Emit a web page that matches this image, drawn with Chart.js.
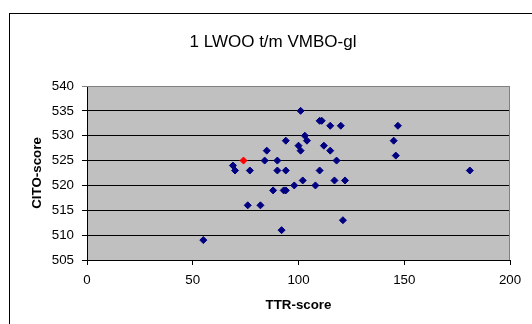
<!DOCTYPE html>
<html><head><meta charset="utf-8">
<script src="https://cdn.jsdelivr.net/npm/chart.js@4"></script>
<style>
html,body{margin:0;padding:0;background:#fff;overflow:hidden;width:532px;height:324px}
#frame{position:absolute;left:9px;top:13px;width:600px;height:400px;border-left:1px solid #000;border-top:1px solid #000}
#wrap{position:absolute;left:9px;top:0;width:528px;height:324px}
#title{position:absolute;left:9px;top:32px;width:528px;text-align:center;font:17px/20px 'Liberation Sans',Arial,sans-serif;color:#000;white-space:nowrap}
</style></head><body>
<div id="frame"></div>
<div id="wrap"><canvas id="c" width="528" height="324"></canvas></div>
<div id="title"></div>
<script>
const chartTitle = '1 LWOO t/m VMBO-gl';
const xAxisTitle = 'TTR-score';
const yAxisTitle = 'CITO-score';
const xTicks = [0, 50, 100, 150, 200];
const yTicks = [505, 510, 515, 520, 525, 530, 535, 540];

const ttrScores  = [55, 69, 70, 77, 76, 82, 84, 85, 88, 90, 90, 92, 93, 94, 94, 94, 98, 100, 101, 101, 102, 103, 104, 108, 110, 111, 110, 112, 115, 115, 118, 117, 120, 121, 122, 145, 146, 147, 181];
const citoScores = [509, 524, 523, 523, 516, 516, 525, 527, 519, 525, 523, 511, 519, 519, 529, 523, 520, 528, 535, 527, 521, 530, 529, 520, 533, 533, 523, 528, 532, 527, 525, 521, 532, 513, 521, 529, 526, 532, 523];

const highlightTTR  = [74];
const highlightCITO = [525];

document.getElementById('title').textContent = chartTitle;

const FONT = "'Liberation Sans', Arial, sans-serif";
Chart.defaults.font.family = FONT;
Chart.defaults.color = '#000';

const toPoints = (xs, ys) => xs.map((x, i) => ({x: x, y: ys[i]}));

const plotBg = {
  id: 'plotBg',
  beforeDraw(chart) {
    const {ctx, chartArea: a} = chart;
    ctx.save();
    ctx.fillStyle = '#C0C0C0';
    ctx.fillRect(a.left, a.top, a.right - a.left, a.bottom - a.top);
    ctx.restore();
  },
  beforeDatasetsDraw(chart) {
    const {ctx, chartArea: a} = chart;
    ctx.save();
    ctx.strokeStyle = '#808080';
    ctx.lineWidth = 1;
    ctx.beginPath();
    ctx.moveTo(a.left, a.top + 0.5);
    ctx.lineTo(a.right - 0.5, a.top + 0.5);
    ctx.lineTo(a.right - 0.5, a.bottom);
    ctx.stroke();
    ctx.restore();
  }
};

new Chart(document.getElementById('c'), {
  type: 'scatter',
  data: {
    datasets: [
      {
        data: toPoints(highlightTTR, highlightCITO),
        pointStyle: 'rectRot', radius: 3.5, hoverRadius: 3.5,
        backgroundColor: '#FF0000', borderColor: '#FF0000', borderWidth: 1
      },
      {
        data: toPoints(ttrScores, citoScores),
        pointStyle: 'rectRot', radius: 3.5, hoverRadius: 3.5,
        backgroundColor: '#000080', borderColor: '#000080', borderWidth: 1
      }
    ]
  },
  options: {
    responsive: false,
    animation: false,
    events: [],
    layout: {padding: {left: 0, right: 27, top: 86, bottom: 0}},
    plugins: {
      legend: {display: false},
      tooltip: {enabled: false},
      title: {display: false}
    },
    scales: {
      x: {
        type: 'linear', min: xTicks[0], max: xTicks[xTicks.length - 1],
        afterBuildTicks(s) { s.ticks = xTicks.map(v => ({value: v})); },
        afterFit(s) { s.height = 64; },
        ticks: {font: {size: 13.33}, padding: 7, color: '#000', maxRotation: 0, autoSkip: false},
        grid: {drawOnChartArea: false, drawTicks: true, tickLength: 5, color: '#000', lineWidth: 1},
        border: {display: true, color: '#000', width: 1},
        title: {display: true, text: xAxisTitle, color: '#000',
          font: {size: 13.33, weight: 'bold', lineHeight: 1.2}, padding: {top: 0, bottom: 11}}
      },
      y: {
        type: 'linear', min: yTicks[0], max: yTicks[yTicks.length - 1],
        afterBuildTicks(s) { s.ticks = yTicks.map(v => ({value: v})); },
        afterFit(s) { s.width = 78; },
        ticks: {font: {size: 13.33}, padding: 8, color: '#000', autoSkip: false},
        grid: {drawTicks: true, tickLength: 5, lineWidth: 1,
          color: c => (c.tick && c.tick.value === yTicks[yTicks.length - 1]) ? '#808080' : '#000'},
        border: {display: true, color: '#000', width: 1},
        title: {display: true, text: yAxisTitle, color: '#000',
          font: {size: 13.33, weight: 'bold', lineHeight: 1.2}, padding: {top: 20, bottom: 0}}
      }
    }
  },
  plugins: [plotBg]
});
</script>
</body></html>
